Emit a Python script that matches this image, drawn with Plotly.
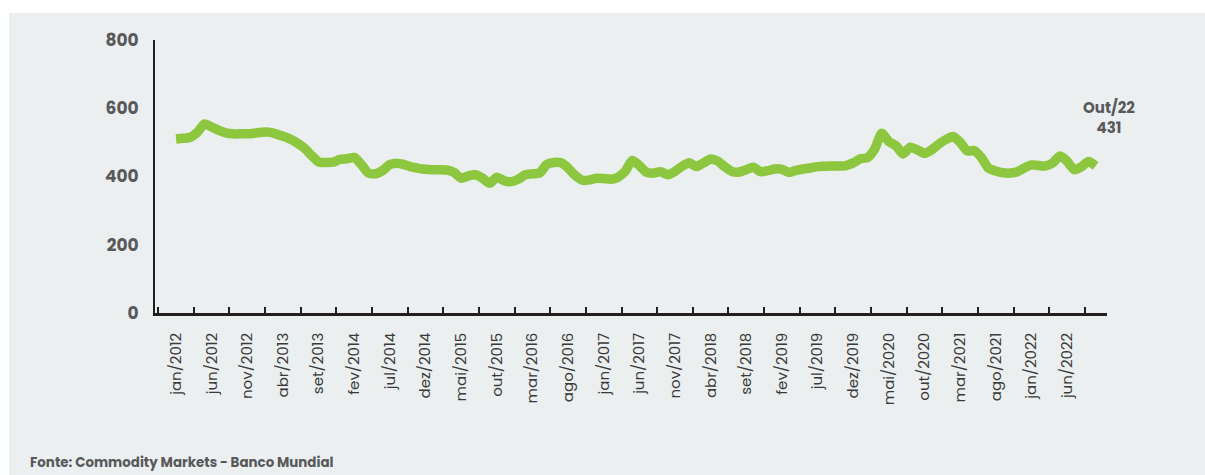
import plotly.graph_objects as go

# ---- data ----
month_names = ["jan", "fev", "mar", "abr", "mai", "jun", "jul", "ago", "set", "out", "nov", "dez"]
years = list(range(2012, 2023))
month_labels = [f"{m}/{y}" for y in years for m in month_names][:130]  # jan/2012 .. out/2022

prices = [
    510, 512, 515, 530, 554, 545, 535, 528, 525, 525,
    525, 527, 530, 530, 525, 518, 510, 498, 483, 462,
    443, 441, 442, 450, 452, 456, 435, 410, 408, 418,
    435, 439, 435, 428, 424, 421, 420, 420, 419, 412,
    395, 402, 405, 395, 380, 398, 388, 385, 392, 405,
    408, 410, 435, 441, 440, 425, 403, 389, 390, 395,
    394, 392, 398, 415, 447, 432, 412, 410, 414, 405,
    415, 430, 440, 429, 440, 451, 445, 428, 415, 413,
    420, 427, 414, 417, 422, 421, 412, 418, 422, 425,
    429, 430, 431, 431, 432, 440, 452, 455, 480, 527,
    502, 490, 466, 486, 478, 468, 478, 495, 508, 517,
    500, 475, 476, 455, 424, 416, 411, 410, 414, 425,
    434, 432, 431, 440, 460, 445, 420, 428, 444, 431,
]
x_idx = list(range(len(prices)))
label_step = 5
tick_vals = x_idx[::label_step]
tick_text = month_labels[::label_step]
y_ticks = [0, 200, 400, 600, 800]
last_label = "Out/22"

FONT = "Poppins, Open Sans, sans-serif"
GRAY_TXT = "#58595b"
AXIS = "#231f20"
GREEN = "#8dc63f"
PANEL = "#ebeff0"

fig = go.Figure()
fig.add_trace(go.Scatter(
    x=x_idx, y=prices, mode="lines",
    line=dict(color=GREEN, width=9.5, shape="spline", smoothing=0.6),
    hoverinfo="skip", showlegend=False,
))

fig.add_annotation(
    x=x_idx[-1], y=prices[-1], xref="x", yref="y",
    text=f"<b>{last_label}<br>{prices[-1]}</b>",
    showarrow=False, xanchor="center", yanchor="bottom",
    xshift=13, yshift=26, align="center",
    font=dict(family=FONT, size=15, color=GRAY_TXT),
)

fig.add_annotation(
    x=-0.1334, y=-0.549, xref="paper", yref="paper",
    text="<b>Fonte: Commodity Markets - Banco Mundial</b>",
    showarrow=False, xanchor="left", yanchor="middle",
    font=dict(family=FONT, size=13.4, color=GRAY_TXT),
)

fig.update_layout(
    width=1205, height=475,
    margin=dict(l=147, r=106, t=32, b=170),
    paper_bgcolor="white",
    plot_bgcolor="rgba(0,0,0,0)",
    font=dict(family=FONT, color=GRAY_TXT),
    shapes=[dict(
        type="rect", xref="paper", yref="paper",
        x0=-0.1534, x1=1.125, y0=-0.66, y1=1.099,
        fillcolor=PANEL, line=dict(width=0), layer="below",
    )],
    xaxis=dict(
        range=[-2.95, 130.6],
        tickmode="array", tickvals=tick_vals, ticktext=tick_text,
        tickangle=-90, ticks="",
        tickfont=dict(family=FONT, size=15, color="#3a3a3a"),
        showgrid=False, zeroline=False,
        showline=True, linecolor=AXIS, linewidth=2.5,
        ticklabelstandoff=11,
        minor=dict(tick0=2.5, dtick=5, ticks="inside", ticklen=6,
                   tickwidth=2, tickcolor=AXIS, showgrid=False),
    ),
    yaxis=dict(
        range=[0, 800],
        tickmode="array", tickvals=y_ticks,
        ticks="", showgrid=False, zeroline=False,
        showline=True, linecolor=AXIS, linewidth=2,
        tickfont=dict(family=FONT, size=17, color=GRAY_TXT, weight="bold"),
        ticklabelstandoff=11,
    ),
)

fig.update_xaxes(fixedrange=True)
fig.update_yaxes(fixedrange=True)
# extend the light-gray panel to the edges of the browser window (white strip top/left)
fig.write_html(
    "out.html",
    post_script=(
        "document.body.style.background="
        "'linear-gradient(to bottom, white 13px, transparent 13px), "
        "linear-gradient(to right, white 9px, " + PANEL + " 9px)';"
    ),
)
